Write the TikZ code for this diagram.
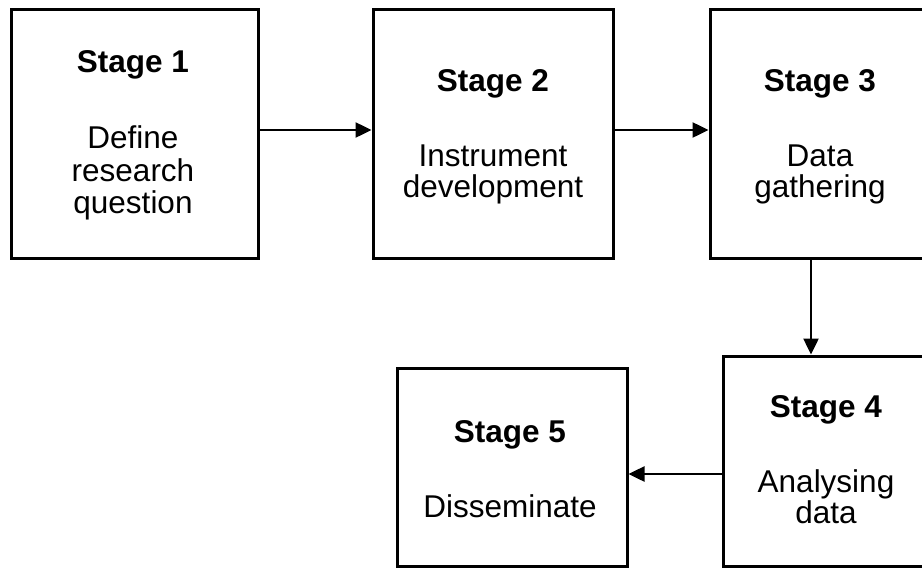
\documentclass[tikz,border=0pt]{standalone}
\usepackage{fontspec}
\setmainfont{Liberation Sans}
\usetikzlibrary{arrows.meta}
\tikzset{
  stagebox/.style={draw=black, line width=3pt, rectangle, inner sep=0pt},
  titletext/.style={anchor=base, inner sep=0pt, font=\fontsize{31.5}{33}\selectfont\bfseries},
  bodytext/.style={anchor=base, inner sep=0pt, font=\fontsize{31.5}{33}\selectfont},
  flow/.style={line width=2.5pt, -{Triangle[length=16pt,width=15pt]}}
}
\begin{document}
\begin{tikzpicture}[x=1pt,y=-1pt]
\clip (0,0) rectangle (922,568);
\fill[white] (0,0) rectangle (922,568);
% boxes
\node[stagebox, minimum width=247pt, minimum height=249pt] (b1) at (134.5,133.5) {};
\node[stagebox, minimum width=240pt, minimum height=249pt] (b2) at (493,133.5) {};
\node[stagebox, minimum width=220pt, minimum height=249pt] (b3) at (820,133.5) {};
\node[stagebox, minimum width=206pt, minimum height=210pt] (b4) at (826,461) {};
\node[stagebox, minimum width=230pt, minimum height=198pt] (b5) at (512,467) {};
% texts
\node[titletext] (t1) at (133,72) {Stage 1};
\node[bodytext] (t1a) at (133,148) {Define};
\node[bodytext] (t1b) at (133,181) {research};
\node[bodytext] (t1c) at (133,213) {question};
\node[titletext] (t2) at (493,91) {Stage 2};
\node[bodytext] (t2a) at (493,166) {Instrument};
\node[bodytext] (t2b) at (493,197) {development};
\node[titletext] (t3) at (820,91) {Stage 3};
\node[bodytext] (t3a) at (820,166) {Data};
\node[bodytext] (t3b) at (820,197) {gathering};
\node[titletext] (t4) at (826,417) {Stage 4};
\node[bodytext] (t4a) at (826,492) {Analysing};
\node[bodytext] (t4b) at (826,523) {data};
\node[titletext] (t5) at (510,442) {Stage 5};
\node[bodytext] (t5a) at (510,517) {Disseminate};
% connector guides
\coordinate (row1) at (0,130);
\coordinate (col34) at (811,0);
\coordinate (row45) at (0,474);
% connectors
\draw[flow] (b1.east |- row1) -- (b2.west |- row1);
\draw[flow] (b2.east |- row1) -- (b3.west |- row1);
\draw[flow] (b3.south -| col34) -- (b4.north -| col34);
\draw[flow] (b4.west |- row45) -- (b5.east |- row45);
\end{tikzpicture}
\end{document}
